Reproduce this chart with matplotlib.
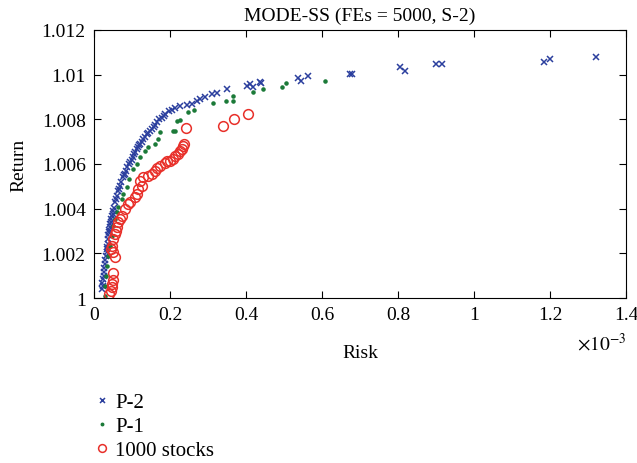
import matplotlib
matplotlib.use('Agg')
import matplotlib.pyplot as plt
from matplotlib.ticker import FuncFormatter

# risk values in units of 1e-3
p2_risk = [0.021, 0.022, 0.024, 0.024, 0.025, 0.026, 0.027, 0.029, 0.030, 0.032, 0.033, 0.034,
           0.035, 0.037, 0.037, 0.038, 0.039, 0.040, 0.042, 0.043, 0.045, 0.046, 0.047, 0.049,
           0.050, 0.052, 0.055, 0.057, 0.061, 0.063, 0.065, 0.068, 0.071, 0.076, 0.079, 0.082,
           0.085, 0.087, 0.091, 0.095, 0.099, 0.103, 0.106, 0.108, 0.112, 0.116, 0.118, 0.121,
           0.125, 0.129, 0.134, 0.139, 0.143, 0.148, 0.153, 0.158, 0.161, 0.166, 0.172, 0.179,
           0.183, 0.187, 0.197, 0.205, 0.213, 0.226, 0.245, 0.258, 0.271, 0.280, 0.292, 0.311,
           0.324, 0.350, 0.403, 0.410, 0.418, 0.437, 0.440, 0.537, 0.545, 0.563, 0.674, 0.679,
           0.805, 0.818, 0.900, 0.916, 1.184, 1.200, 1.321]
p2_ret = [1.00040, 1.00065, 1.00054, 1.00085, 1.00100, 1.00116, 1.00135, 1.00152, 1.00170, 1.00188,
          1.00205, 1.00220, 1.00230, 1.00242, 1.00264, 1.00280, 1.00296, 1.00305, 1.00318, 1.00330,
          1.00340, 1.00352, 1.00367, 1.00378, 1.00390, 1.00405, 1.00430, 1.00445, 1.00457, 1.00479,
          1.00490, 1.00502, 1.00520, 1.00542, 1.00550, 1.00556, 1.00570, 1.00587, 1.00598, 1.00609,
          1.00620, 1.00632, 1.00643, 1.00654, 1.00665, 1.00676, 1.00684, 1.00690, 1.00700, 1.00712,
          1.00722, 1.00735, 1.00740, 1.00748, 1.00756, 1.00766, 1.00775, 1.00788, 1.00800, 1.00808,
          1.00815, 1.00822, 1.00836, 1.00840, 1.00850, 1.00860, 1.00866, 1.00869, 1.00883, 1.00890,
          1.00900, 1.00914, 1.00918, 1.00936, 1.00950, 1.00960, 1.00945, 1.00968, 1.00963, 1.00985,
          1.00972, 1.00995, 1.01003, 1.01003, 1.01035, 1.01017, 1.01048, 1.01048, 1.01057, 1.01068,
          1.01077]

p1_risk = [0.029, 0.029, 0.032, 0.034, 0.037, 0.042, 0.047, 0.050, 0.055, 0.061, 0.063, 0.074,
           0.076, 0.087, 0.092, 0.103, 0.113, 0.121, 0.134, 0.142, 0.161, 0.168, 0.174, 0.208,
           0.213, 0.218, 0.226, 0.247, 0.263, 0.313, 0.347, 0.366, 0.366, 0.418, 0.445, 0.495,
           0.505, 0.608]
p1_ret = [1.00009, 1.00054, 1.00099, 1.00143, 1.00188, 1.00233, 1.00278, 1.00323, 1.00354, 1.00385,
          1.00408, 1.00444, 1.00466, 1.00497, 1.00533, 1.00578, 1.00600, 1.00632, 1.00659, 1.00676,
          1.00690, 1.00712, 1.00744, 1.00748, 1.00748, 1.00793, 1.00797, 1.00833, 1.00842, 1.00874,
          1.00883, 1.00883, 1.00905, 1.00923, 1.00936, 1.00945, 1.00963, 1.00972]

stocks_risk = [0.040, 0.045, 0.047, 0.048, 0.050, 0.050, 0.055, 0.050, 0.045, 0.047, 0.050, 0.055,
               0.058, 0.061, 0.063, 0.068, 0.074, 0.082, 0.089, 0.095, 0.108, 0.113, 0.116, 0.126,
               0.121, 0.129, 0.142, 0.153, 0.161, 0.166, 0.174, 0.187, 0.192, 0.200, 0.208, 0.213,
               0.221, 0.226, 0.232, 0.234, 0.237, 0.242, 0.339, 0.368, 0.405]
stocks_ret = [1.00018, 1.00031, 1.00049, 1.00063, 1.00080, 1.00112, 1.00184, 1.00206, 1.00220, 1.00233,
              1.00264, 1.00287, 1.00300, 1.00318, 1.00340, 1.00354, 1.00367, 1.00399, 1.00421, 1.00430,
              1.00452, 1.00466, 1.00488, 1.00502, 1.00524, 1.00542, 1.00547, 1.00556, 1.00569, 1.00582,
              1.00591, 1.00605, 1.00614, 1.00614, 1.00623, 1.00636, 1.00645, 1.00659, 1.00668, 1.00681,
              1.00690, 1.00762, 1.00771, 1.00802, 1.00824]

plt.rcParams['font.family'] = ['Liberation Serif', 'DejaVu Serif']
plt.rcParams['mathtext.fontset'] = 'stix'

fig = plt.figure(figsize=(6.37, 4.64), dpi=100)
ax = fig.add_axes([0.1476, 0.3556, 0.8351, 0.5776])

ax.plot(p2_risk, p2_ret, 'x', color='#2b3f9e', markersize=4.5, markeredgewidth=1.1, label='P-2')
ax.plot(p1_risk, p1_ret, '.', color='#1b7a38', markersize=4.5, label='P-1')
ax.plot(stocks_risk, stocks_ret, 'o', color='#e8302a', markerfacecolor='none',
        markersize=7, markeredgewidth=1.1, label='1000 stocks')

ax.set_xlim(0, 1.4)
ax.set_ylim(1.0, 1.012)
ax.set_xticks([0, 0.2, 0.4, 0.6, 0.8, 1.0, 1.2, 1.4])
ax.set_yticks([1.0, 1.002, 1.004, 1.006, 1.008, 1.01, 1.012])
ax.xaxis.set_major_formatter(FuncFormatter(lambda v, p: ('%.1f' % v).rstrip('0').rstrip('.')))
ax.yaxis.set_major_formatter(FuncFormatter(lambda v, p: ('%.3f' % v).rstrip('0').rstrip('.')))
ax.tick_params(direction='in', top=True, right=True, labelsize=14, length=5, width=0.8, pad=6)
for s in ax.spines.values():
    s.set_linewidth(0.8)

ax.set_title('MODE-SS (FEs = 5000, S-2)', fontsize=14, pad=7)
ax.set_xlabel('Risk', fontsize=14, labelpad=15)
ax.set_ylabel('Return', fontsize=14, labelpad=10)
ax.text(1.0, -0.125, r'$\times10^{-3}$', transform=ax.transAxes, ha='right', va='top', fontsize=14)

fig.legend(loc='upper left', bbox_to_anchor=(0.135, 0.175), borderpad=0,
           frameon=False, fontsize=15, handlelength=0.5, handletextpad=0.4,
           labelspacing=0.22, markerscale=0.8)

fig.savefig('out.png', dpi=100)
